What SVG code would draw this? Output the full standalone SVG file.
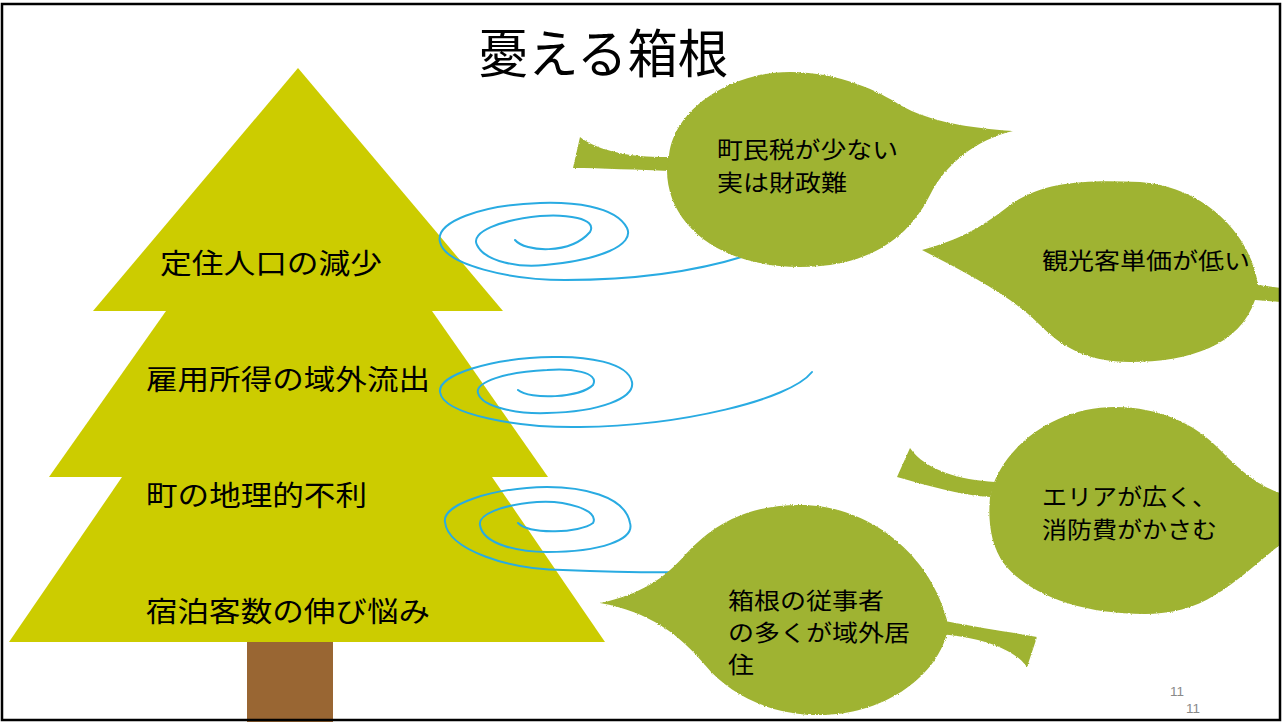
<svg xmlns="http://www.w3.org/2000/svg" width="1284" height="722" viewBox="0 0 1284 722">
  <style>
    .jp { font-family: "Noto Sans CJK JP", "Noto Sans", sans-serif; fill: #000; }
    .tier { fill: #CCCC00; }
    .trunk { fill: #996633; }
    .leaf { fill: #9FB331; filter: url(#rough); }
    .wind { fill: none; stroke: #29ABE2; stroke-width: 2; stroke-linecap: round; }
    .label { font-size: 28px; }
    .leaftext { font-size: 23px; }
    .pagenum { font-family: "Liberation Sans", sans-serif; font-size: 13.5px; fill: #898989; }
  </style>
  <defs>
    <!-- slightly ragged edge for the leaf shapes -->
    <filter id="rough" x="-5%" y="-5%" width="110%" height="110%">
      <feTurbulence type="fractalNoise" baseFrequency="0.9" numOctaves="2" seed="3" result="n"/>
      <feDisplacementMap in="SourceGraphic" in2="n" scale="2.5" xChannelSelector="R" yChannelSelector="G"/>
    </filter>
  </defs>

  <rect x="0" y="0" width="1284" height="722" fill="#FFFFFF"/>

  <!-- title -->
  <text id="title" class="jp" x="478" y="73" font-size="52" textLength="250" lengthAdjust="spacingAndGlyphs">憂える箱根</text>

  <!-- tree -->
  <g id="tree">
    <rect class="trunk" x="247" y="640" width="86" height="82"/>
    <polygon class="tier" points="122,477 492,477 605,642 9,642"/>
    <polygon class="tier" points="166,311 432,311 548,477 49,477"/>
    <polygon class="tier" points="298,68 503,311 93,311"/>
  </g>

  <g id="tier-1"><text class="jp label" x="160" y="274" textLength="222" lengthAdjust="spacingAndGlyphs">定住人口の減少</text></g>
  <g id="tier-2"><text class="jp label" x="146" y="390" textLength="284" lengthAdjust="spacingAndGlyphs">雇用所得の域外流出</text></g>
  <g id="tier-3"><text class="jp label" x="146" y="506" textLength="221" lengthAdjust="spacingAndGlyphs">町の地理的不利</text></g>
  <g id="tier-4"><text class="jp label" x="146" y="622" textLength="284" lengthAdjust="spacingAndGlyphs">宿泊客数の伸び悩み</text></g>

  <!-- wind spirals -->
  <g id="connectors">
    <path class="wind" d="M 515 240 C 525 252, 570 255, 590 232 C 598 218, 565 214, 540 216 C 500 220, 470 232, 477 245 C 485 262, 520 268, 545 265 C 600 260, 635 245, 627 228 C 615 205, 570 202, 540 203 C 480 205, 435 222, 440 242 C 445 265, 510 280, 565 280 C 640 280, 700 270, 745 256"/>
    <path class="wind" d="M 518 390 C 530 400, 580 398, 593 385 C 600 372, 570 368, 547 370 C 505 372, 475 382, 478 393 C 482 408, 520 414, 547 413 C 600 412, 635 398, 632 382 C 628 362, 585 356, 553 357 C 490 358, 438 375, 440 392 C 443 415, 520 428, 580 427 C 680 426, 790 400, 812 372"/>
    <path class="wind" d="M 518 523 C 530 535, 580 533, 593 523 C 600 510, 565 500, 537 502 C 500 505, 478 515, 480 525 C 483 545, 520 552, 547 552 C 600 552, 635 540, 630 523 C 625 495, 580 487, 547 487 C 490 488, 442 505, 445 522 C 448 550, 510 570, 563 570 C 610 572, 650 573, 700 572"/>
  </g>

  <!-- leaves -->
  <g id="leaf-tax">
    <path class="leaf" d="M 580 137 C 600 153, 640 158, 672 157 L 670 171 C 640 170, 600 168, 573 168 Z"/>
    <path class="leaf" d="M 669 158 C 672 110, 730 72, 790 72 C 840 72, 880 92, 900 105 C 930 122, 970 128, 1013 131 C 975 140, 945 165, 930 195 C 905 245, 860 267, 800 267 C 720 267, 667 225, 667 170 Z"/>
    <text class="jp leaftext" x="717" y="158" textLength="181" lengthAdjust="spacingAndGlyphs">町民税が少ない</text>
    <text class="jp leaftext" x="717" y="191" textLength="130" lengthAdjust="spacingAndGlyphs">実は財政難</text>
  </g>

  <g id="leaf-spend">
    <path class="leaf" d="M 922 250 C 960 240, 985 225, 1010 205 C 1045 180, 1090 180, 1140 182 C 1200 186, 1250 230, 1258 285 L 1281 288 L 1281 302 L 1255 300 C 1240 345, 1190 362, 1130 362 C 1085 362, 1060 345, 1040 325 C 1010 295, 970 275, 922 250 Z"/>
    <text class="jp leaftext" x="1042" y="269" textLength="208" lengthAdjust="spacingAndGlyphs">観光客単価が低い</text>
  </g>

  <g id="leaf-area">
    <path class="leaf" d="M 910 448 C 925 470, 960 480, 995 482 L 990 497 C 960 495, 925 485, 897 477 Z"/>
    <path class="leaf" d="M 993 485 C 1010 440, 1060 407, 1115 407 C 1160 407, 1195 425, 1215 445 C 1235 465, 1255 485, 1280 493 L 1280 545 C 1260 560, 1240 580, 1215 595 C 1195 608, 1170 614, 1145 614 C 1080 614, 1030 595, 1005 565 C 990 545, 988 520, 990 497 Z"/>
    <text class="jp leaftext" x="1042" y="505" textLength="175" lengthAdjust="spacingAndGlyphs">エリアが広く、</text>
    <text class="jp leaftext" x="1042" y="538" textLength="175" lengthAdjust="spacingAndGlyphs">消防費がかさむ</text>
  </g>

  <g id="leaf-commute">
    <path class="leaf" d="M 945 621 C 980 628, 1010 632, 1037 637 L 1027 667 C 1015 650, 985 638, 940 634 Z"/>
    <path class="leaf" d="M 600 603 C 640 595, 665 578, 685 555 C 715 522, 750 505, 800 505 C 870 505, 930 555, 947 620 L 947 633 C 935 680, 880 715, 820 715 C 770 715, 730 695, 705 665 C 680 635, 650 612, 600 603 Z"/>
    <text class="jp leaftext" x="728" y="609" textLength="156" lengthAdjust="spacingAndGlyphs">箱根の従事者</text>
    <text class="jp leaftext" x="728" y="641" textLength="182" lengthAdjust="spacingAndGlyphs">の多くが域外居</text>
    <text class="jp leaftext" x="728" y="673" textLength="26" lengthAdjust="spacingAndGlyphs">住</text>
  </g>

  <!-- slide number -->
  <text class="pagenum" x="1170" y="696">11</text>
  <text class="pagenum" x="1186" y="713">11</text>

  <!-- slide frame -->
  <rect x="2" y="4" width="1278" height="716" fill="none" stroke="#000" stroke-width="2.5"/>
</svg>
